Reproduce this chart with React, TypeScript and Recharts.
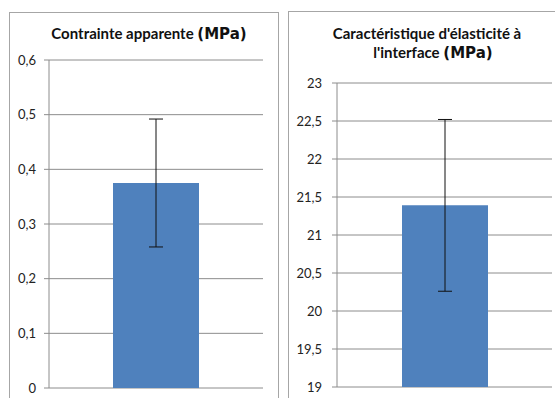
import { BarChart, Bar, XAxis, YAxis, CartesianGrid, ErrorBar } from "recharts";

// Contrainte apparente (MPa)
const stressCategories = ["Contrainte apparente"];
const stressValues = [0.375];
const stressErrors = [0.117];
const stressTicks = [0, 0.1, 0.2, 0.3, 0.4, 0.5, 0.6];

// Caractéristique d'élasticité à l'interface (MPa)
const elastCategories = ["Caractéristique d'élasticité"];
const elastValues = [21.39];
const elastErrors = [1.13];
const elastTicks = [19, 19.5, 20, 20.5, 21, 21.5, 22, 22.5, 23];

const BAR_COLOR = "#4f81bd";
const GRID = "#8c8c8c";
const FRAME = "#a6a6a6";

const fmt = (v: number) => String(v).replace(".", ",");

const tickStyle = { fill: "#222", fontSize: 13, fontFamily: "Lato" };

function Panel({
  categories,
  values,
  errors,
  ticks,
  domain,
  width,
  left,
  margin,
  yWidth,
  tickMargin,
}: {
  categories: string[];
  values: number[];
  errors: number[];
  ticks: number[];
  domain: [number, number];
  width: number;
  left: number;
  margin: { top: number; right: number; bottom: number; left: number };
  yWidth: number;
  tickMargin: number;
}) {
  const data = categories.map((c, i) => ({ name: c, value: values[i], err: errors[i] }));
  return (
    <div style={{ position: "absolute", left, top: 0 }}>
      <BarChart width={width} height={398} data={data} margin={margin}>
        <CartesianGrid vertical={false} stroke={GRID} />
        <XAxis dataKey="name" tick={false} tickLine={false} height={0} axisLine={{ stroke: GRID }} />
        <YAxis
          width={yWidth}
          domain={domain}
          ticks={ticks}
          interval={0}
          allowDataOverflow
          tickFormatter={fmt}
          tick={tickStyle}
          tickSize={5}
          tickMargin={tickMargin}
          axisLine={{ stroke: GRID }}
          tickLine={{ stroke: GRID }}
        />
        <Bar dataKey="value" fill={BAR_COLOR} barSize={86} isAnimationActive={false}>
          <ErrorBar dataKey="err" direction="y" width={7} stroke="#111" strokeWidth={1} />
        </Bar>
      </BarChart>
    </div>
  );
}

const titleFont = { fontFamily: "Lato", fontWeight: 700, fontSize: 15, color: "#111" };
const unitFont = { fontFamily: "DejaVu Sans", fontWeight: 700, fontSize: 15 };

export default function App() {
  return (
    <div style={{ position: "absolute", left: 0, top: 0, width: 555, height: 398, overflow: "hidden", background: "#fff" }}>
      <div style={{ position: "absolute", left: 9, top: 12, width: 270, height: 400, border: `1px solid ${FRAME}`, boxSizing: "border-box" }} />
      <div style={{ position: "absolute", left: 288, top: 11, width: 290, height: 400, border: `1px solid ${FRAME}`, boxSizing: "border-box" }} />

      <Panel
        categories={stressCategories}
        values={stressValues}
        errors={stressErrors}
        ticks={stressTicks}
        domain={[0, 0.6]}
        width={280}
        left={0}
        margin={{ top: 60, right: 17, bottom: 10, left: 0 }}
        yWidth={49}
        tickMargin={8}
      />
      <Panel
        categories={elastCategories}
        values={elastValues}
        errors={elastErrors}
        ticks={elastTicks}
        domain={[19, 23]}
        width={275}
        left={280}
        margin={{ top: 83, right: 3, bottom: 11, left: 0 }}
        yWidth={57}
        tickMargin={10}
      />

      <div style={{ position: "absolute", left: 9, width: 280, top: 23, lineHeight: "20px", textAlign: "center", whiteSpace: "nowrap", ...titleFont }}>
        Contrainte apparente <span style={unitFont}>(MPa)</span>
      </div>
      <div style={{ position: "absolute", left: 288, width: 290, top: 24, textAlign: "center", lineHeight: "19px", ...titleFont }}>
        <div style={{ marginLeft: -12 }}>Caractéristique d'élasticité à</div>
        <div>
          l'interface <span style={unitFont}>(MPa)</span>
        </div>
      </div>
    </div>
  );
}
